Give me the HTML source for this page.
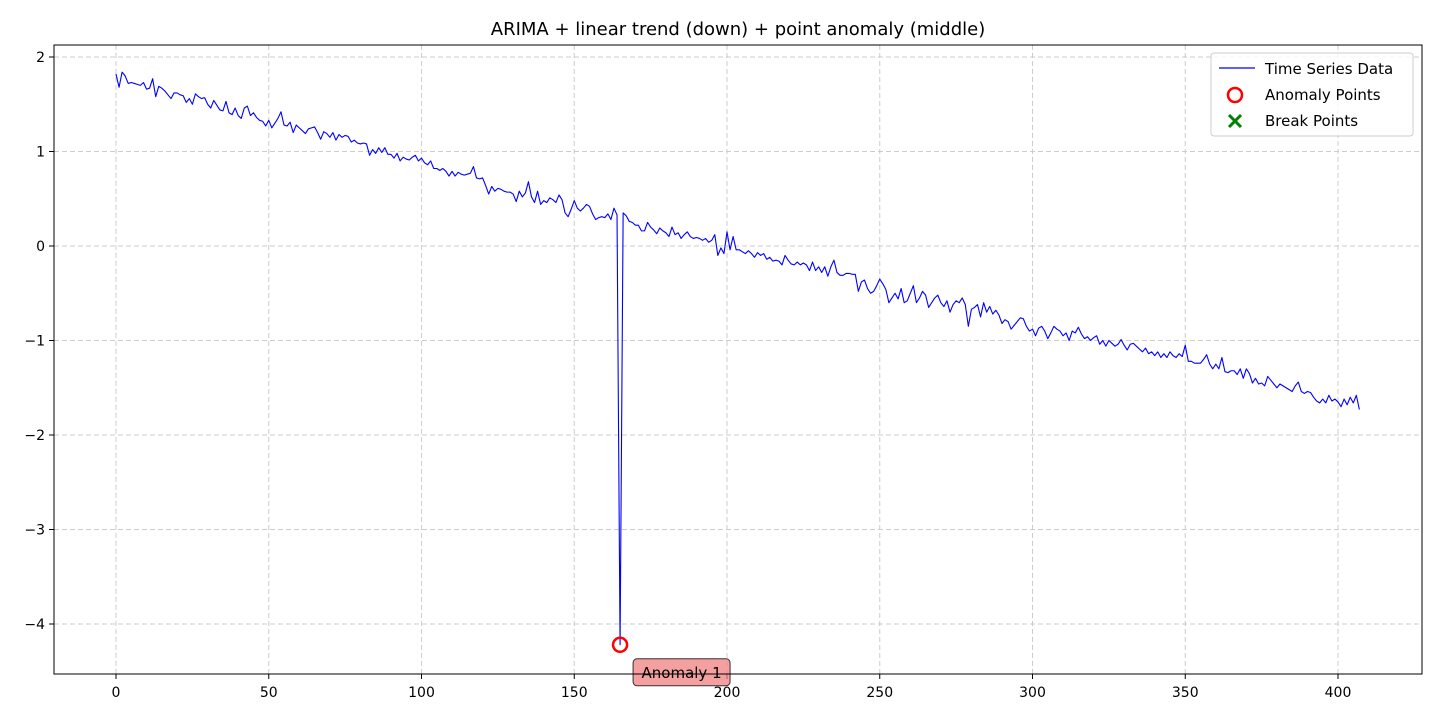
<!DOCTYPE html>
<html><head><meta charset="utf-8"><style>
body{margin:0;background:#fff;}
svg{display:block;font-family:"DejaVu Sans","Liberation Sans",sans-serif;}
</style></head><body>
<svg id="chart" width="1440" height="720"></svg>
<script>
const values=[1.82,1.68,1.84,1.80,1.72,1.73,1.72,1.71,1.70,1.73,
1.66,1.67,1.77,1.58,1.69,1.67,1.64,1.60,1.56,1.62,
1.62,1.60,1.59,1.52,1.56,1.50,1.61,1.58,1.56,1.57,
1.50,1.46,1.54,1.49,1.44,1.43,1.53,1.41,1.39,1.46,
1.38,1.35,1.46,1.48,1.38,1.41,1.36,1.33,1.32,1.27,
1.33,1.25,1.30,1.35,1.42,1.28,1.27,1.31,1.20,1.28,
1.25,1.22,1.19,1.24,1.25,1.26,1.20,1.13,1.21,1.19,
1.15,1.20,1.12,1.18,1.15,1.17,1.16,1.10,1.12,1.09,
1.08,1.09,1.08,0.96,1.02,0.98,1.04,0.99,1.04,0.97,
0.97,0.93,0.98,0.90,0.94,0.92,0.91,0.94,0.96,0.90,
0.93,0.88,0.86,0.90,0.82,0.82,0.80,0.82,0.79,0.74,
0.79,0.74,0.78,0.76,0.75,0.76,0.77,0.84,0.72,0.71,
0.72,0.64,0.55,0.63,0.58,0.61,0.60,0.58,0.57,0.57,
0.55,0.47,0.58,0.52,0.56,0.68,0.52,0.46,0.58,0.44,
0.48,0.46,0.51,0.49,0.46,0.54,0.49,0.35,0.31,0.39,
0.48,0.40,0.37,0.40,0.44,0.42,0.34,0.28,0.30,0.31,
0.30,0.34,0.28,0.40,0.33,-4.22,0.35,0.32,0.26,0.25,
0.22,0.22,0.16,0.16,0.25,0.20,0.17,0.13,0.19,0.16,
0.14,0.10,0.20,0.12,0.14,0.08,0.12,0.15,0.10,0.08,
0.09,0.08,0.06,0.08,0.04,0.06,0.12,-0.10,-0.02,-0.08,
0.15,-0.04,0.10,-0.04,-0.04,-0.06,-0.08,-0.05,-0.08,-0.12,
-0.07,-0.10,-0.08,-0.14,-0.12,-0.16,-0.15,-0.16,-0.20,-0.10,
-0.15,-0.19,-0.20,-0.17,-0.20,-0.18,-0.20,-0.26,-0.17,-0.26,
-0.22,-0.28,-0.22,-0.32,-0.22,-0.15,-0.28,-0.31,-0.31,-0.29,
-0.29,-0.30,-0.30,-0.48,-0.38,-0.36,-0.45,-0.50,-0.48,-0.42,
-0.35,-0.40,-0.46,-0.60,-0.55,-0.50,-0.56,-0.45,-0.60,-0.58,
-0.50,-0.42,-0.60,-0.55,-0.48,-0.52,-0.65,-0.60,-0.55,-0.52,
-0.60,-0.64,-0.58,-0.70,-0.62,-0.58,-0.60,-0.55,-0.62,-0.85,
-0.67,-0.65,-0.62,-0.75,-0.60,-0.70,-0.64,-0.72,-0.68,-0.73,
-0.82,-0.78,-0.80,-0.88,-0.84,-0.80,-0.76,-0.77,-0.85,-0.90,
-0.88,-0.95,-0.87,-0.85,-0.90,-0.98,-0.92,-0.85,-0.88,-0.90,
-0.95,-0.92,-1.00,-0.90,-0.92,-0.86,-0.93,-0.98,-0.96,-1.00,
-0.97,-0.95,-1.04,-1.00,-1.06,-1.00,-1.03,-1.06,-1.04,-0.99,
-1.05,-1.10,-1.04,-1.03,-1.06,-1.09,-1.12,-1.08,-1.14,-1.12,
-1.16,-1.12,-1.18,-1.14,-1.18,-1.12,-1.16,-1.18,-1.14,-1.17,
-1.05,-1.22,-1.22,-1.24,-1.24,-1.24,-1.20,-1.15,-1.25,-1.30,
-1.25,-1.30,-1.18,-1.33,-1.34,-1.32,-1.32,-1.36,-1.30,-1.40,
-1.30,-1.35,-1.45,-1.40,-1.46,-1.45,-1.48,-1.38,-1.42,-1.46,
-1.50,-1.46,-1.48,-1.50,-1.52,-1.54,-1.48,-1.44,-1.54,-1.56,
-1.54,-1.55,-1.60,-1.64,-1.66,-1.62,-1.66,-1.58,-1.64,-1.62,
-1.65,-1.70,-1.62,-1.68,-1.60,-1.66,-1.58,-1.73];
const anomalyIdx=[165];
const anomalyLabels=["Anomaly 1"];
const xTicks=[0,50,100,150,200,250,300,350,400];
const yTicks=[2,1,0,-1,-2,-3,-4];

const NS="http://www.w3.org/2000/svg";
const svg=document.getElementById('chart');
const L=54,R=1422,T=45,B=674;
const sx=v=>116+(v-0)*(1338-116)/400;
const sy=v=>246-v*94.5;
function el(tag,attrs,parent){const e=document.createElementNS(NS,tag);for(const k in attrs)e.setAttribute(k,attrs[k]);(parent||svg).appendChild(e);return e;}

xTicks.forEach(t=>{
 const g=el('line',{x1:sx(t),x2:sx(t),y1:T,y2:B,stroke:'#cccccc','stroke-dasharray':'5,3','stroke-width':1});
 
 
 const tk=el('line',{x1:sx(t),x2:sx(t),y1:B,y2:B+5,stroke:'#000'});
 
 
 const tx=el('text',{x:sx(t),y:B+23,'text-anchor':'middle','font-size':14,fill:'#000'});
 tx.textContent=t;
 
 
});
yTicks.forEach(t=>{
 const g=el('line',{x1:L,x2:R,y1:sy(t),y2:sy(t),stroke:'#cccccc','stroke-dasharray':'5,3','stroke-width':1});
 
 
 const tk=el('line',{x1:L-5,x2:L,y1:sy(t),y2:sy(t),stroke:'#000'});
 
 
 const tx=el('text',{x:L-9,y:sy(t)+5,'text-anchor':'end','font-size':14,fill:'#000'});
 tx.textContent=(t<0?'\u2212'+(-t):t);
 
 
});

const pts=values.map((v,i)=>sx(i).toFixed(2)+','+sy(v).toFixed(2)).join(' ');
const line=el('polyline',{points:pts,fill:'none',stroke:'#0000ff','stroke-width':1.1,'stroke-linejoin':'round'});



anomalyIdx.forEach((idx,k)=>{
 const cx=sx(idx),cy=sy(values[idx]);
 const c=el('circle',{cx:cx,cy:cy,r:7,fill:'none',stroke:'#ff0000','stroke-width':2.5});
 
 
 const r=el('rect',{x:cx+13,y:cy+14,width:97,height:27,rx:4,fill:'rgba(240,128,128,0.75)',stroke:'#333','stroke-width':1});
 
 
 const t=el('text',{x:cx+61.5,y:cy+33,'text-anchor':'middle','font-size':15,fill:'#000'});
 t.textContent=anomalyLabels[k];
 
 
});

const fr=el('rect',{x:L,y:T,width:R-L,height:B-T,fill:'none',stroke:'#000','stroke-width':1});



const title=el('text',{x:(L+R)/2,y:35,'text-anchor':'middle','font-size':18,fill:'#000'});
title.textContent='ARIMA + linear trend (down) + point anomaly (middle)';



const lg=el('g',{});


el('rect',{x:1211,y:53,width:202,height:83,rx:3,fill:'#fff','fill-opacity':0.8,stroke:'#cccccc'},lg);
const e1=el('line',{x1:1219,x2:1255,y1:68,y2:68,stroke:'#0000ff','stroke-width':1.2},lg);


const e2=el('circle',{cx:1235,cy:95,r:7,fill:'none',stroke:'#ff0000','stroke-width':2.5},lg);


const e3=el('path',{d:'M1229,115 L1241,127 M1241,115 L1229,127',stroke:'#008000','stroke-width':3},lg);


[['Time Series Data',74],['Anomaly Points',100],['Break Points',126]].forEach(([s,y])=>{
 const t=el('text',{x:1265,y:y,'font-size':15,fill:'#000'},lg);
 t.textContent=s;
 
 
});
</script>
</body></html>
